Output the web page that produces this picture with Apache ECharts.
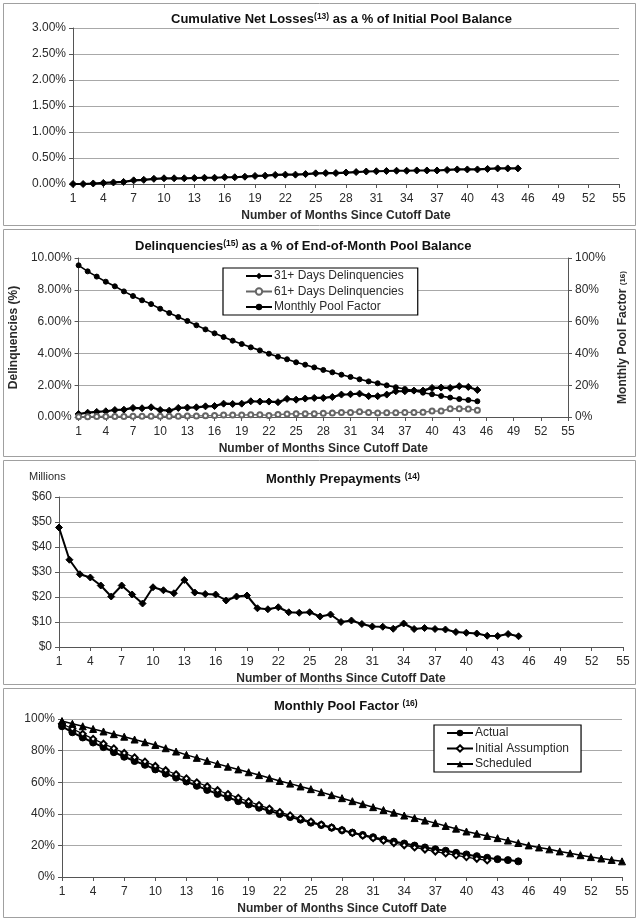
<!DOCTYPE html>
<html>
<head>
<meta charset="utf-8">
<script src="https://cdn.jsdelivr.net/npm/echarts@6/dist/echarts.min.js"></script>
<style>
html,body{margin:0;padding:0;background:#fff;}
#c{width:640px;height:922px;}
</style>
</head>
<body>
<div id="c"></div>
<script>
var months = [1,2,3,4,5,6,7,8,9,10,11,12,13,14,15,16,17,18,19,20,21,22,23,24,25,26,27,28,29,30,31,32,33,34,35,36,37,38,39,40,41,42,43,44,45,46,47,48,49,50,51,52,53,54,55];

var netLoss = [0.00,0.00,0.01,0.02,0.03,0.04,0.07,0.08,0.10,0.11,0.11,0.11,0.115,0.12,0.12,0.13,0.13,0.14,0.155,0.16,0.175,0.18,0.18,0.19,0.205,0.21,0.21,0.22,0.23,0.24,0.245,0.25,0.255,0.255,0.26,0.26,0.26,0.27,0.28,0.28,0.28,0.29,0.30,0.30,0.30];

var delq31 = [0.19,0.27,0.32,0.36,0.44,0.46,0.57,0.55,0.61,0.44,0.40,0.57,0.59,0.61,0.67,0.69,0.84,0.82,0.84,0.99,0.97,0.97,0.93,1.14,1.09,1.16,1.20,1.20,1.26,1.41,1.43,1.47,1.31,1.31,1.41,1.62,1.62,1.66,1.66,1.83,1.85,1.83,1.94,1.89,1.70];

var delq61 = [0.02,0.02,0.03,0.03,0.03,0.03,0.04,0.04,0.05,0.04,0.04,0.05,0.06,0.07,0.08,0.09,0.12,0.12,0.12,0.14,0.14,0.10,0.15,0.19,0.20,0.20,0.21,0.23,0.25,0.28,0.29,0.33,0.28,0.25,0.26,0.27,0.29,0.29,0.30,0.37,0.38,0.52,0.52,0.50,0.42];

var poolFactor = [95.4,91.6,88.3,85.1,82.2,79.0,76.1,73.4,71.0,68.1,65.4,62.9,60.4,57.7,55.1,52.6,50.3,48.0,45.9,43.8,41.9,39.8,37.9,36.3,34.4,32.9,31.2,29.6,28.1,26.6,25.2,23.7,22.4,21.2,19.9,18.7,17.6,16.6,15.3,14.3,13.2,12.2,11.3,10.7,9.9];

var prepay = [47.8,34.9,29.1,27.8,24.6,20.2,24.6,21.0,17.4,23.9,22.7,21.5,26.8,21.8,21.2,21.0,18.6,20.2,20.6,15.5,15.1,15.9,13.9,13.7,13.9,12.2,13.0,10.0,10.6,9.2,8.2,8.1,7.3,9.4,7.2,7.6,7.2,7.0,6.0,5.7,5.4,4.5,4.4,5.2,4.3];

var initialAssumption = [97.0,93.8,90.6,87.4,84.4,81.4,78.5,75.7,73.0,70.3,67.6,65.0,62.4,59.9,57.4,54.9,52.5,50.1,47.8,45.5,43.3,41.1,39.0,37.0,35.1,33.2,31.4,29.6,27.9,26.2,24.6,23.0,21.5,20.1,18.7,17.4,16.1,14.9,13.7,12.6,11.5,10.5];

var scheduled = [98.7,97.0,95.4,93.7,92.1,90.4,88.8,87.0,85.3,83.6,81.5,79.4,77.3,75.4,73.5,71.6,69.8,68.1,66.3,64.5,62.6,60.8,59.1,57.3,55.6,53.7,51.8,49.9,48.0,46.1,44.2,42.4,40.7,38.9,37.3,35.7,34.1,32.3,30.6,28.8,27.4,26.0,24.6,23.1,21.5,20.0,18.7,17.5,16.2,15.0,13.8,12.6,11.7,10.8,9.9];

var FONT = 'Liberation Sans, Arial, sans-serif';
var TXT = '#2a2a2a';

function xAxis(gi) {
  return {
    type: 'category', gridIndex: gi, data: months, boundaryGap: false,
    axisLine: {lineStyle: {color: '#555', width: 1}},
    axisTick: {interval: 2, length: 4, lineStyle: {color: '#555'}},
    axisLabel: {interval: 2, color: TXT, fontFamily: FONT, fontSize: 12, margin: 9},
    splitLine: {show: false},
    name: 'Number of Months Since Cutoff Date', nameLocation: 'middle', nameGap: 26,
    nameTextStyle: {fontFamily: FONT, fontSize: 12, fontWeight: 'bold', color: TXT}
  };
}
function yAxis(gi, max, interval, fmt, extra) {
  var a = {
    type: 'value', gridIndex: gi, min: 0, max: max, interval: interval,
    axisLine: {show: true, lineStyle: {color: '#555', width: 1}},
    axisTick: {show: true, length: 4, lineStyle: {color: '#555'}},
    axisLabel: {color: TXT, fontFamily: FONT, fontSize: 12, margin: 7, formatter: fmt},
    splitLine: {show: true, lineStyle: {color: '#a8a8a8', width: 1}}
  };
  if (extra) for (var k in extra) a[k] = extra[k];
  return a;
}
function titleItem(left, top, main, sup, after) {
  return {
    left: left, top: top, padding: 0,
    text: '{a|' + main + '}{s|' + sup + '}' + (after ? '{a|' + after + '}' : ''),
    textStyle: {
      rich: {
        a: {fontFamily: FONT, fontSize: 13, fontWeight: 'bold', color: '#111', lineHeight: 15},
        s: {fontFamily: FONT, fontSize: 8.5, fontWeight: 'bold', color: '#111', lineHeight: 15, verticalAlign: 'top', padding: [0, 0, 6, 0]}
      }
    }
  };
}
function lineSeries(name, xi, yi, data, symbol, size, width, color, extra) {
  var s = {
    name: name, type: 'line', xAxisIndex: xi, yAxisIndex: yi, data: data,
    symbol: symbol, symbolSize: size, showSymbol: true, showAllSymbol: true,
    lineStyle: {color: color, width: width},
    itemStyle: {color: color, borderColor: color},
    emphasis: {disabled: true}, animation: false, z: 3
  };
  if (extra) for (var k in extra) s[k] = extra[k];
  return s;
}
function legendItem(left, top, pad, names) {
  return {
    orient: 'vertical', left: left, top: top,
    padding: pad, itemGap: 3.5, itemWidth: 26, itemHeight: 8,
    borderColor: '#000', borderWidth: 1.2, backgroundColor: '#fff',
    textStyle: {fontFamily: FONT, fontSize: 12, color: TXT, padding: [0, 0, 0, -3]},
    data: names, selectedMode: false
  };
}

var borderStyle = {fill: 'none', stroke: '#a0a0a0', lineWidth: 1};
var option = {
  animation: false,
  backgroundColor: '#fff',
  textStyle: {fontFamily: FONT},
  graphic: [
    {type: 'rect', shape: {x: 3.5, y: 3.5, width: 632, height: 222}, style: borderStyle, silent: true},
    {type: 'rect', shape: {x: 3.5, y: 229.5, width: 632, height: 227}, style: borderStyle, silent: true},
    {type: 'rect', shape: {x: 3.5, y: 460.5, width: 632, height: 224}, style: borderStyle, silent: true},
    {type: 'rect', shape: {x: 3.5, y: 688.5, width: 632, height: 229}, style: borderStyle, silent: true}
  ],
  title: [
    titleItem(171, 12, 'Cumulative Net Losses', '(13)', ' as a % of Initial Pool Balance'),
    titleItem(135, 239, 'Delinquencies', '(15)', ' as a % of End-of-Month Pool Balance'),
    titleItem(266, 472, 'Monthly Prepayments ', '(14)', ''),
    titleItem(274, 699, 'Monthly Pool Factor ', '(16)', ''),
    {left: 29, top: 471, padding: 0, text: 'Millions', textStyle: {fontFamily: FONT, fontSize: 11, fontWeight: 'normal', color: TXT}}
  ],
  legend: [
    legendItem(223, 268, [2, 14, 2, 22], ['31+ Days Delinquencies', '61+ Days Delinquencies', 'Monthly Pool Factor']),
    legendItem(434, 725, [2, 12, 2, 12], ['Actual', 'Initial Assumption', 'Scheduled'])
  ],
  grid: [
    {left: 73, right: 21, top: 28, height: 156},
    {left: 76, right: 72, top: 258, height: 159},
    {left: 59, right: 17, top: 497, height: 150},
    {left: 62, right: 18, top: 719, height: 158}
  ],
  xAxis: [xAxis(0), xAxis(1), xAxis(2), xAxis(3)],
  yAxis: [
    yAxis(0, 3, 0.5, function (v) { return v.toFixed(2) + '%'; }),
    yAxis(1, 10, 2, function (v) { return v.toFixed(2) + '%'; }, {
      name: 'Delinquencies (%)', nameLocation: 'middle', nameGap: 50, nameRotate: 90,
      nameTextStyle: {fontFamily: FONT, fontSize: 12, fontWeight: 'bold', color: TXT}
    }),
    yAxis(1, 100, 20, function (v) { return v + '%'; }, {
      position: 'right', splitLine: {show: false},
      name: '{a|Monthly Pool Factor }{s|(16)}', nameLocation: 'middle', nameGap: 38, nameRotate: 90,
      nameTextStyle: {rich: {
        a: {fontFamily: FONT, fontSize: 12, fontWeight: 'bold', color: TXT},
        s: {fontFamily: FONT, fontSize: 8, fontWeight: 'bold', color: TXT}
      }}
    }),
    yAxis(2, 60, 10, function (v) { return '$' + v; }),
    yAxis(3, 100, 20, function (v) { return v + '%'; })
  ],
  series: [
    lineSeries('Cumulative Net Losses', 0, 0, netLoss, 'diamond', 7, 2.2, '#000'),
    lineSeries('31+ Days Delinquencies', 1, 1, delq31, 'diamond', 7, 2.2, '#000'),
    lineSeries('61+ Days Delinquencies', 1, 1, delq61, 'emptyCircle', 5, 1.4, '#666'),
    lineSeries('Monthly Pool Factor', 1, 2, poolFactor, 'circle', 5, 1.6, '#000'),
    lineSeries('Prepayments', 2, 3, prepay, 'diamond', 7, 2, '#000'),
    lineSeries('Actual', 3, 4, poolFactor, 'circle', 7, 2, '#000'),
    lineSeries('Initial Assumption', 3, 4, initialAssumption, 'emptyDiamond', 6, 1.2, '#000'),
    lineSeries('Scheduled', 3, 4, scheduled, 'triangle', 7, 1.5, '#000')
  ]
};
var chart = echarts.init(document.getElementById('c'), null, {renderer: 'canvas'});
chart.setOption(option);
</script>
</body>
</html>
